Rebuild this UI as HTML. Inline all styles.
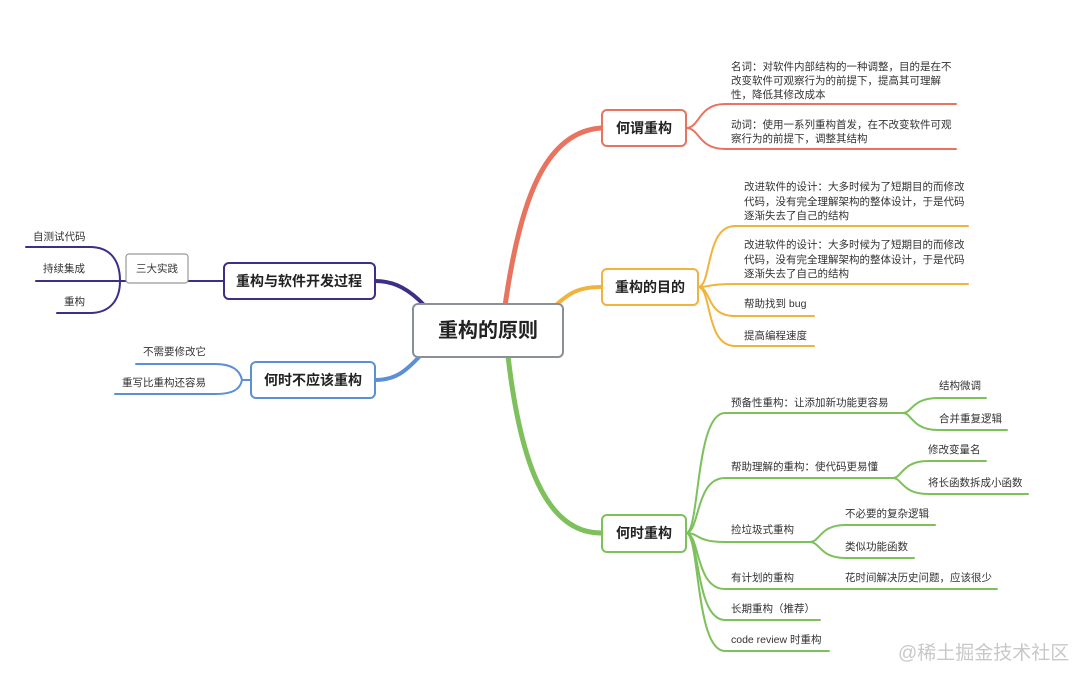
<!DOCTYPE html>
<html><head><meta charset="utf-8"><style>
html,body{margin:0;padding:0;background:#fff;}
svg{display:block;}
text{font-family:"Liberation Sans","Noto Sans CJK SC",sans-serif;fill:#333;}
.s{font-size:10.5px;}
.b{font-size:14px;font-weight:bold;fill:#222;}
</style></head><body>
<svg width="1080" height="682" viewBox="0 0 1080 682" xmlns="http://www.w3.org/2000/svg">
<g fill="none" stroke-linecap="round">
<!-- main branches -->
<path d="M505 306 C520 200 545 132 601 128" stroke="#e8735f" stroke-width="5"/>
<path d="M555 306 C570 292 580 287 601 287" stroke="#f0b43c" stroke-width="4"/>
<path d="M508 356 C520 460 545 533 601 533" stroke="#7dc05c" stroke-width="5"/>
<path d="M425 306 C410 290 395 281 375 281" stroke="#3b2f86" stroke-width="4"/>
<path d="M420 356 C405 372 395 380 375 380" stroke="#5b8fd6" stroke-width="4"/>
<!-- red children -->
<g stroke="#e8735f" stroke-width="2">
<path d="M686 128 C700 128 698 104 725 104 L956 104"/>
<path d="M686 128 C700 128 698 149 725 149 L956 149"/>
</g>
<!-- orange children -->
<g stroke="#f0b43c" stroke-width="2">
<path d="M698 287 C712 287 705 226 735 226 L968 226"/>
<path d="M698 287 C712 287 705 284 735 284 L968 284"/>
<path d="M698 287 C712 287 705 316 735 316 L814 316"/>
<path d="M698 287 C712 287 705 346 735 346 L814 346"/>
</g>
<!-- green children -->
<g stroke="#7dc05c" stroke-width="2">
<path d="M686 533 C700 533 695 413 725 413 L903 413"/>
<path d="M686 533 C700 533 695 478 725 478 L893 478"/>
<path d="M686 533 C700 533 695 542 725 542 L810 542"/>
<path d="M686 533 C700 533 695 589 725 589 L997 589"/>
<path d="M686 533 C700 533 695 620 725 620 L820 620"/>
<path d="M686 533 C700 533 695 651 725 651 L829 651"/>
<path d="M903 413 C912 413 912 398 938 398 L986 398"/>
<path d="M903 413 C912 413 912 430 938 430 L1007 430"/>
<path d="M893 478 C902 478 902 461 928 461 L986 461"/>
<path d="M893 478 C902 478 902 494 928 494 L1028 494"/>
<path d="M810 542 C820 542 820 525 845 525 L935 525"/>
<path d="M810 542 C820 542 820 558 845 558 L914 558"/>
</g>
<!-- purple left -->
<g stroke="#3b2f86" stroke-width="2">
<path d="M224 281 L126 281"/>
<path d="M120 281 C120 260 110 247 90 247 L26 247"/>
<path d="M126 281 L36 281"/>
<path d="M120 281 C120 300 110 313 90 313 L57 313"/>
</g>
<g stroke="#5b8fd6" stroke-width="2">
<path d="M251 380 L242 380"/>
<path d="M242 380 C240 370 232 364 215 364 L136 364"/>
<path d="M242 380 C240 390 232 394 215 394 L115 394"/>
</g>
</g>
<!-- boxes -->
<rect x="413" y="304" width="150" height="53" rx="5" fill="#fff" stroke="#8a8f99" stroke-width="2"/>
<text x="488" y="337" text-anchor="middle" style="font-size:20px;font-weight:bold;fill:#222">重构的原则</text>
<rect x="602" y="110" width="84" height="36" rx="5" fill="#fff" stroke="#e8735f" stroke-width="2"/>
<text x="644" y="133" text-anchor="middle" class="b">何谓重构</text>
<rect x="602" y="269" width="96" height="36" rx="5" fill="#fff" stroke="#f0b43c" stroke-width="2"/>
<text x="650" y="292" text-anchor="middle" class="b">重构的目的</text>
<rect x="602" y="515" width="84" height="37" rx="5" fill="#fff" stroke="#7dc05c" stroke-width="2"/>
<text x="644" y="538" text-anchor="middle" class="b">何时重构</text>
<rect x="224" y="263" width="151" height="36" rx="5" fill="#fff" stroke="#3b2f86" stroke-width="2"/>
<text x="299" y="286" text-anchor="middle" class="b">重构与软件开发过程</text>
<rect x="251" y="362" width="124" height="36" rx="5" fill="#fff" stroke="#5b8fd6" stroke-width="2"/>
<text x="313" y="385" text-anchor="middle" class="b">何时不应该重构</text>
<rect x="126" y="254" width="62" height="29" rx="3" fill="#fff" stroke="#999" stroke-width="1.2"/>
<text x="157" y="272" text-anchor="middle" class="s">三大实践</text>
<!-- texts -->
<g class="s">
<text x="731" y="70">名词：对软件内部结构的一种调整，目的是在不</text>
<text x="731" y="84">改变软件可观察行为的前提下，提高其可理解</text>
<text x="731" y="98">性，降低其修改成本</text>
<text x="731" y="128">动词：使用一系列重构首发，在不改变软件可观</text>
<text x="731" y="142">察行为的前提下，调整其结构</text>
<text x="744" y="190">改进软件的设计：大多时候为了短期目的而修改</text>
<text x="744" y="205">代码，没有完全理解架构的整体设计，于是代码</text>
<text x="744" y="219">逐渐失去了自己的结构</text>
<text x="744" y="248">改进软件的设计：大多时候为了短期目的而修改</text>
<text x="744" y="263">代码，没有完全理解架构的整体设计，于是代码</text>
<text x="744" y="277">逐渐失去了自己的结构</text>
<text x="744" y="307">帮助找到 bug</text>
<text x="744" y="339">提高编程速度</text>
<text x="731" y="406">预备性重构：让添加新功能更容易</text>
<text x="939" y="389">结构微调</text>
<text x="939" y="422">合并重复逻辑</text>
<text x="731" y="470">帮助理解的重构：使代码更易懂</text>
<text x="928" y="453">修改变量名</text>
<text x="928" y="486">将长函数拆成小函数</text>
<text x="731" y="533">捡垃圾式重构</text>
<text x="845" y="517">不必要的复杂逻辑</text>
<text x="845" y="550">类似功能函数</text>
<text x="731" y="581">有计划的重构</text>
<text x="845" y="581">花时间解决历史问题，应该很少</text>
<text x="731" y="612">长期重构（推荐）</text>
<text x="731" y="643">code review 时重构</text>
<text x="33" y="240">自测试代码</text>
<text x="43" y="272">持续集成</text>
<text x="64" y="305">重构</text>
<text x="143" y="355">不需要修改它</text>
<text x="122" y="386">重写比重构还容易</text>
</g>
<text x="898" y="659" style="font-size:19px;fill:#c8c8c8">@稀土掘金技术社区</text>
</svg>
</body></html>
